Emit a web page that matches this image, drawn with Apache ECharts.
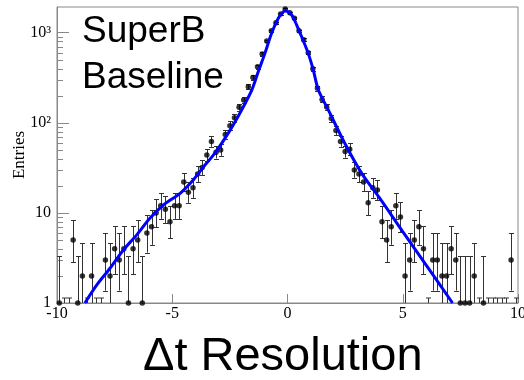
<!DOCTYPE html>
<html>
<head>
<meta charset="utf-8">
<script src="https://cdn.jsdelivr.net/npm/echarts@6/dist/echarts.min.js"></script>
<style>
  html, body { margin: 0; padding: 0; background: #fff; }
  #chart { width: 524px; height: 380px; }
</style>
</head>
<body>
<div id="chart"></div>
<script>
// ── Histogram: bin centres (width 0.2) and entries ──
const binCenters = [
  -9.9, -9.7, -9.5, -9.3, -9.1, -8.9, -8.7, -8.5, -8.3, -8.1,
  -7.9, -7.7, -7.5, -7.3, -7.1, -6.9, -6.7, -6.5, -6.3, -6.1,
  -5.9, -5.7, -5.5, -5.3, -5.1, -4.9, -4.7, -4.5, -4.3, -4.1,
  -3.9, -3.7, -3.5, -3.3, -3.1, -2.9, -2.7, -2.5, -2.3, -2.1,
  -1.9, -1.7, -1.5, -1.3, -1.1, -0.9, -0.7, -0.5, -0.3, -0.1,
  0.1, 0.3, 0.5, 0.7, 0.9, 1.1, 1.3, 1.5, 1.7, 1.9,
  2.1, 2.3, 2.5, 2.7, 2.9, 3.1, 3.3, 3.5, 3.7, 3.9,
  4.1, 4.3, 4.5, 4.7, 4.9, 5.1, 5.3, 5.5, 5.7, 5.9,
  6.1, 6.3, 6.5, 6.7, 6.9, 7.1, 7.3, 7.5, 7.7, 7.9,
  8.1, 8.3, 8.5, 8.7, 8.9, 9.1, 9.3, 9.5, 9.7, 9.9,
];
const entries = [
  1, 0, 0, 5, 1, 2, 0, 2, 0, 0,
  3, 2, 4, 3, 4, 1, 4, 5, 1, 6,
  7, 10, 12, 11, 8, 12, 12, 22, 17, 19,
  27, 32, 44, 62, 47, 50, 74, 93, 114, 149,
  179, 252, 319, 420, 580, 809, 1052, 1290, 1613, 1830,
  1670, 1445, 1050, 835, 600, 397, 242, 182, 150, 112,
  82, 62, 48, 51, 30, 27, 22, 13, 19, 18,
  8, 5, 7, 12, 9, 2, 3, 5, 7, 4,
  0, 3, 3, 2, 2, 4, 3, 1, 1, 1,
  2, 0, 1, 0, 0, 0, 0, 0, 3, 0,
];

// ── Fit curve, sampled off the blue line ──
const fitX = [-8.79, -8.28, -7.7, -7.12, -6.54, -5.97, -5.39, -4.66, -4.09, -3.58,
  -3.15, -2.49, -1.99, -1.55, -1.27, -0.98, -0.69, -0.40, -0.18, -0.07,
  0.18, 0.40, 0.64, 0.90, 1.12, 1.34, 1.77, 2.49, 3.22, 4.0, 5.0, 6.0, 7.16];
const fitY = [1.0, 1.58, 2.43, 3.88, 5.7, 8.7, 12.2, 16.5, 23.2, 34,
  46, 83, 139, 231, 369, 590, 985, 1445, 1710, 1740,
  1572, 1217, 867, 590, 385, 231, 139, 59, 27.5, 14.6, 6.2, 2.67, 1.0];

// ── Axes ──
const xMin = -10, xMax = 10, xStep = 5;
const yMin = 1, yMax = 1930;
const yMajorLabels = { 0: '1', 1: '10', 2: '10²', 3: '10³' };
const yMinorTicks = [2, 3, 4, 5, 6, 7, 8, 9, 20, 30, 40, 50, 60, 70, 80, 90,
  200, 300, 400, 500, 600, 700, 800, 900];

const texts = { tag: 'SuperB\nBaseline', caption: 'Δt Resolution', yName: 'Entries' };

// Poisson 68% interval (Gehrels approximation), as ROOT draws for counts
const poisLow = n => n * Math.pow(1 - 1 / (9 * n) - 1 / (3 * Math.sqrt(n)), 3);
const poisHigh = n => n + Math.sqrt(n + 0.75) + 1;

const points = [];
const bars = [];
binCenters.forEach((x, i) => {
  const n = entries[i];
  if (n > 0) {
    points.push([x, n]);
    bars.push([x, Math.max(yMin, poisLow(n)), poisHigh(n), n]);
  } else {
    bars.push([x, yMin, yMin, 0]);
  }
});

const AXIS = '#888';
const BAR = '#333';
const serif = '"Liberation Serif", "DejaVu Serif", serif';
const sans = '"Liberation Sans", Arial, sans-serif';

const chart = echarts.init(document.getElementById('chart'));

chart.setOption({
  animation: false,
  backgroundColor: '#fff',
  title: [
    { text: texts.tag, left: 82, top: 9, padding: 0,
      textStyle: { fontFamily: sans, fontSize: 37, fontWeight: 'normal', color: '#000', lineHeight: 46 } },
    { text: texts.caption, left: 143, top: 334, padding: 0,
      textStyle: { fontFamily: sans, fontSize: 47, fontWeight: 'normal', color: '#000' } },
  ],
  grid: {
    left: 57, right: 6, top: 7, bottom: 77, outerBoundsMode: 'none',
    show: true, borderColor: AXIS, borderWidth: 1,
  },
  xAxis: {
    type: 'value', min: xMin, max: xMax, interval: xStep,
    axisLine: { onZero: false, lineStyle: { color: AXIS } },
    axisTick: { inside: true, length: 9, lineStyle: { color: AXIS } },
    axisLabel: { color: '#000', fontFamily: serif, fontSize: 16, margin: 3 },
    splitLine: { show: false },
  },
  yAxis: {
    type: 'log', logBase: 10, min: yMin, max: yMax,
    name: texts.yName, nameLocation: 'middle', nameGap: 29, nameRotate: 90,
    nameMoveOverlap: false,
    nameTextStyle: { color: '#000', fontFamily: serif, fontSize: 17 },
    axisLine: { onZero: false, lineStyle: { color: AXIS } },
    axisTick: { inside: true, length: 12, lineStyle: { color: AXIS } },
    axisLabel: {
      color: '#000', fontFamily: serif, fontSize: 16, margin: 6, showMaxLabel: false,
      formatter: v => {
        const e = Math.log10(v);
        const k = Math.round(e);
        return Math.abs(e - k) < 1e-6 && yMajorLabels[k] !== undefined ? yMajorLabels[k] : '';
      },
    },
    splitLine: { show: false },
  },
  series: [
    {
      // minor log ticks on the left axis
      type: 'custom', z: 1, silent: true, clip: false,
      data: yMinorTicks.map(v => [xMin, v]),
      renderItem: (params, api) => {
        const p = api.coord([api.value(0), api.value(1)]);
        const y = Math.round(p[1]) + 0.5;
        return { type: 'line', shape: { x1: p[0], y1: y, x2: p[0] + 6, y2: y },
          style: { stroke: AXIS, lineWidth: 1 } };
      },
    },
    {
      // Poisson error bars
      type: 'custom', z: 2, silent: true, clip: false,
      data: bars,
      renderItem: (params, api) => {
        const x = api.value(0), n = api.value(3);
        const base = api.coord([x, api.value(1)]);
        const cx = Math.round(base[0]) + 0.5;
        const style = { stroke: BAR, lineWidth: 1 };
        const cap = 2.5;
        if (n === 0) {
          const y0 = base[1], y1 = base[1] - 5;
          return { type: 'group', children: [
            { type: 'line', shape: { x1: cx, y1: y0, x2: cx, y2: y1 }, style },
            { type: 'line', shape: { x1: cx - cap, y1: y1, x2: cx + cap, y2: y1 }, style },
          ] };
        }
        const top = api.coord([x, api.value(2)]);
        const ty = Math.round(top[1]) + 0.5;
        const children = [
          { type: 'line', shape: { x1: cx, y1: base[1], x2: cx, y2: ty }, style },
          { type: 'line', shape: { x1: cx - cap, y1: ty, x2: cx + cap, y2: ty }, style },
        ];
        if (api.value(1) > yMin) {
          const by = Math.round(base[1]) + 0.5;
          children.push({ type: 'line', shape: { x1: cx - cap, y1: by, x2: cx + cap, y2: by }, style });
        }
        return { type: 'group', children };
      },
    },
    {
      type: 'scatter', z: 3, clip: false, silent: true,
      symbol: 'circle', symbolSize: 5.5,
      itemStyle: { color: '#000' },
      data: points,
    },
    {
      type: 'line', z: 4, silent: true,
      data: fitX.map((x, i) => [x, fitY[i]]),
      smooth: 0.3, showSymbol: false,
      lineStyle: { color: '#0000ff', width: 3 },
    },
  ],
});
</script>
</body>
</html>
